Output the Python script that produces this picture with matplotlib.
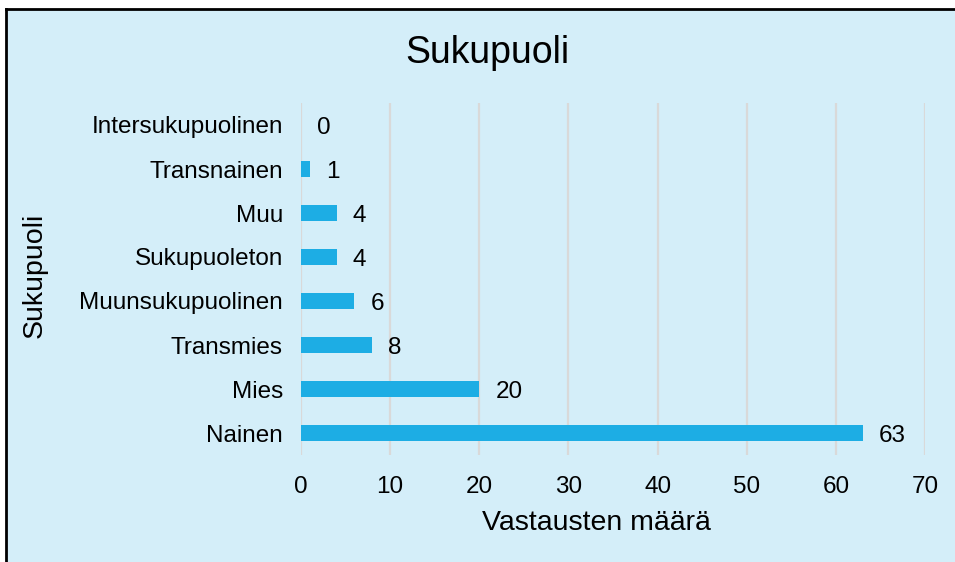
import matplotlib.pyplot as plt
from matplotlib.patches import Rectangle
from matplotlib.lines import Line2D

plt.rcParams['font.family'] = ['Liberation Sans', 'DejaVu Sans']

categories = ["Nainen", "Mies", "Transmies", "Muunsukupuolinen",
              "Sukupuoleton", "Muu", "Transnainen", "Intersukupuolinen"]
counts = [63, 20, 8, 6, 4, 4, 1, 0]
x_ticks = [0, 10, 20, 30, 40, 50, 60, 70]

bg = "#D4EEF9"
bar_color = "#1DADE4"

fig = plt.figure(figsize=(9.55, 5.62), dpi=100, facecolor="white")

# light blue chart area with black frame on left and top
fig.patches.append(Rectangle((7 / 955, 0), 1, 1 - 10 / 562, transform=fig.transFigure,
                             facecolor=bg, edgecolor="none", zorder=-10))
fig.lines.append(Line2D([6 / 955, 6 / 955], [0, 1 - 9 / 562], transform=fig.transFigure,
                        color="black", linewidth=2, zorder=-5))
fig.lines.append(Line2D([6 / 955, 1], [1 - 9 / 562, 1 - 9 / 562], transform=fig.transFigure,
                        color="black", linewidth=2, zorder=-5))

ax = fig.add_axes([301 / 955, 1 - 455 / 562, 624 / 955, 352 / 562])
ax.set_facecolor("none")

ypos = list(range(len(categories)))
ax.barh(ypos, counts, height=0.37, color=bar_color, zorder=3)
for y, v in zip(ypos, counts):
    ax.text(v + 1.8, y, str(v), va="center_baseline", ha="left", fontsize=17.5,
            color="black")

ax.set_xlim(0, 70)
ax.set_ylim(-0.5, 7.5)
ax.set_xticks(x_ticks)
ax.set_yticks(ypos)
ax.set_yticklabels(categories)
ax.tick_params(axis="both", length=0, labelsize=17.5, colors="black")
ax.tick_params(axis="x", pad=15)
ax.tick_params(axis="y", pad=13)
ax.grid(axis="x", color="#D9D9D9", linewidth=1.6, zorder=0)
ax.set_axisbelow(True)
for s in ax.spines.values():
    s.set_visible(False)

fig.text(596 / 955, 1 - 523 / 562, "Vastausten määrä", fontsize=20.5,
         va="center", ha="center")
fig.text(35 / 955, 1 - 275 / 562, "Sukupuoli", rotation=90, fontsize=20.5,
         va="center", ha="center")
fig.text(487 / 955, 1 - 53 / 562, "Sukupuoli", fontsize=27, va="center", ha="center")

fig.savefig("out.png", dpi=100)
